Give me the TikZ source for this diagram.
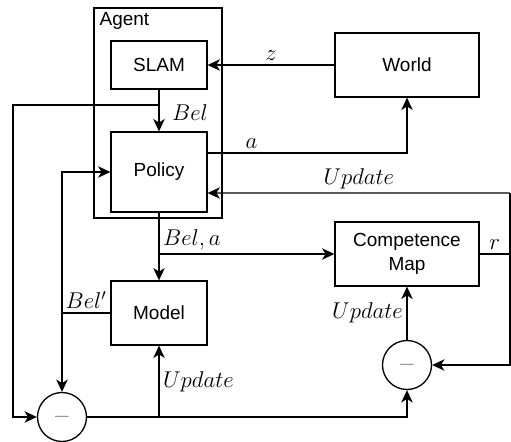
\RequirePackage{fix-cm}
\documentclass[tikz,border=0pt]{standalone}
\usepackage{fontspec}
\setsansfont{Liberation Sans}
\usetikzlibrary{arrows.meta}
\begin{document}
\begin{tikzpicture}[x=0.02cm, y=-0.02cm, line width=0.75pt, >={Stealth[length=7pt,width=6.5pt,inset=2pt]},
block node/.style={rectangle,draw,minimum width=1.92cm,inner sep=2pt,align=center,font=\sffamily\fontsize{10.8}{13.5}\selectfont},
wide node/.style={block node,minimum width=2.88cm,minimum height=1.28cm},
sum node/.style={circle,draw,minimum size=0.98cm,inner sep=0pt,text=black!55},
lbl/.style={font=\fontsize{13}{15}\selectfont,inner sep=2pt}]
\useasboundingbox (0,0) rectangle (511,441);
\begin{scope}
\node[draw,minimum width=2.56cm,minimum height=4.2cm] (agent) at (158,113) {};%agent
\node[anchor=west,inner sep=0pt,font=\sffamily\fontsize{10.8}{13}\selectfont] (agentlbl) at (99,21) {Agent};
\node[block node,minimum height=0.96cm] (slam) at (159,65) {SLAM};%slam
\node[block node,minimum height=1.6cm] (policy) at (159,172) {Policy};%policy
\node[block node,minimum height=1.28cm] (model) at (159,313) {Model};%model
\node[wide node] (world) at (407,65) {World};%world
\node[wide node] (cmap) at (407,254) {Competence\\Map};%competence map
\node[sum node] (sum1) at (62,417) {\fontsize{13}{15}\selectfont$-$};%minus 1
\node[sum node] (sum2) at (407,365) {\fontsize{13}{15}\selectfont$-$};%minus 2
\end{scope}
% branch points
\coordinate (b1) at (159,105);
\coordinate (l1) at (13,105);
\coordinate (ba) at (159,254);
\coordinate (bm) at (62,313);
\coordinate (bu) at (159,417);
\coordinate (rr) at (510,254);
\coordinate (ru) at (510,193);
\begin{scope}[every node/.style={lbl}]
\draw[->] (world) -- node[above]{$z$} (slam);
\draw[->] (slam) -- (policy);
\node (bellbl) at (190,113) {$Bel$};
\draw[->] (b1) -- (l1) |- (sum1);
\draw[->] ([yshift=0.38cm]policy.east) -| node[above,pos=0.11]{$a$} (world);
\draw[->] (policy) -- (model);
\draw[->] (ba) -- node[pos=0,anchor=south west]{$Bel,a$} (cmap);
\draw (model) -- node[above]{$Bel'$} (bm);
\draw[->] (bm) |- (policy);
\draw[->] (bm) -- (sum1);
\draw[->] (sum1) -| (sum2);
\draw[->] (bu) -- node[right]{$Update$} (model);
\draw[->] (sum2) -- node[left]{$Update$} (cmap);
\draw (cmap) -- node[above]{$r$} (rr);
\draw[->] (rr) |- (sum2);
\draw (rr) -- (ru);
\draw[->] (ru) -- node[above]{$Update$} ([yshift=-0.42cm]policy.east);
\end{scope}
\end{tikzpicture}
\end{document}
